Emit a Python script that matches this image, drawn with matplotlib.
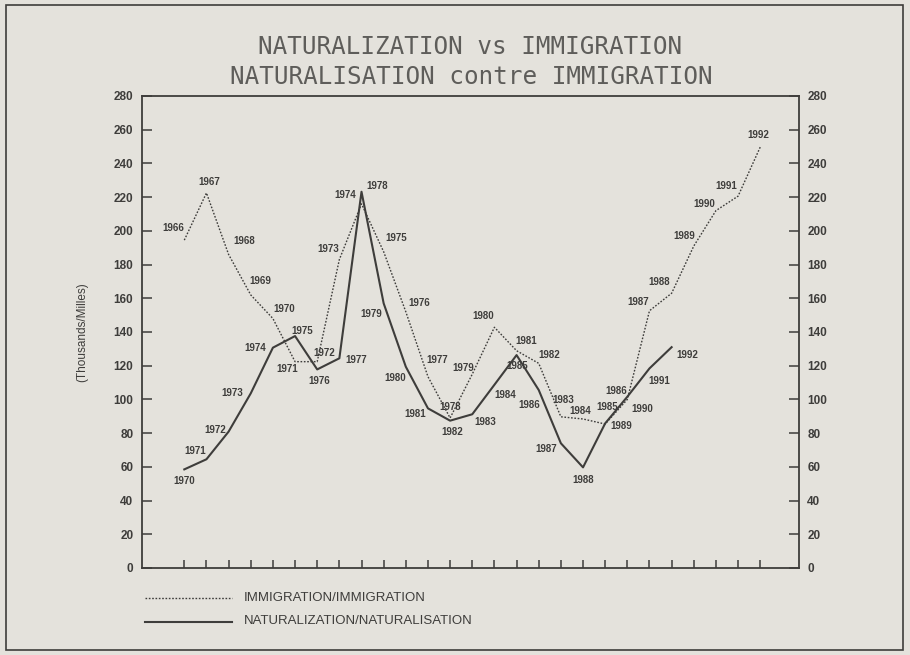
import matplotlib
matplotlib.use("Agg")
import matplotlib.pyplot as plt
from matplotlib import font_manager
from matplotlib.patches import Rectangle

# Immigration 1966-1992 and naturalization 1970-1992, thousands of persons
imm_years = list(range(1966, 1993))
imm_values = [194.5, 222.5, 186, 162, 148, 122.4, 122.4, 183, 216, 187.6,
              152, 113.5, 89, 115, 142.8, 128.9, 121.4, 89.7, 88.4, 85.4,
              100, 152.6, 163, 191, 212, 220.6, 249.7]

nat_years = list(range(1970, 1993))
nat_values = [58.5, 64.5, 80.9, 103.6, 130.7, 137.6, 117.8, 124.4, 223.2,
              157, 119.4, 94.7, 87.4, 91.2, 108.7, 126.3, 105.6, 74, 59.7,
              85.8, 101.6, 118.4, 131]

y_ticks = list(range(0, 281, 20))

# year label offsets in pixels (dx right, dy up)
imm_off = [(-11, 12), (3, 11), (16, 13), (10, 14), (11, 10), (-8, -7), (7, 9),
           (-11, 11), (-16, 9), (13, 14), (13, 9), (9, 17), (0, 11), (-9, 6),
           (-11, 11), (10, 10), (11, 8), (2, 17), (-3, 8), (2, 17), (-11, 8),
           (-11, 9), (-12, 11), (-10, 10), (-12, 7), (-12, 10), (-2, 12)]
nat_off = [(0, -12), (-11, 8), (-13, 2), (-19, 0), (-18, 0), (7, 5), (2, -12),
           (17, -2), (16, 6), (-12, -11), (-11, -11), (-13, -6), (2, -11),
           (13, -8), (11, -10), (1, -11), (-9, -15), (-15, -6), (0, -13),
           (16, -3), (15, -12), (10, -13), (16, -8)]

avail = {f.name for f in font_manager.fontManager.ttflist}
narrow = "Liberation Sans Narrow" if "Liberation Sans Narrow" in avail else "Liberation Sans"

ink = "#3e3d3b"
bg = "#e4e2dc"

fig = plt.figure(figsize=(9.10, 6.55), dpi=100, facecolor=bg)
fig.patches.append(Rectangle((6 / 910, 1 - 650 / 655), 897 / 910, 645 / 655,
                             transform=fig.transFigure, fill=False,
                             edgecolor=ink, linewidth=1.2))

W, H = 910, 655
ax = fig.add_axes([141.7 / W, 1 - 568 / H, (799 - 141.7) / W, (568 - 96) / H])
ax.set_facecolor(bg)

imm_x = list(range(len(imm_values)))
nat_x = list(range(len(nat_values)))

ax.plot(imm_x, imm_values, color=ink, lw=1.0, ls=(0, (1.2, 1.2)))
ax.plot(nat_x, nat_values, color=ink, lw=1.5, ls="-")

lab_font = dict(family=narrow, fontsize=7, fontweight="bold", color=ink,
                ha="center", va="center")
for x, y, yr, (dx, dy) in zip(imm_x, imm_values, imm_years, imm_off):
    ax.annotate(str(yr), (x, y), xytext=(dx, dy), textcoords="offset pixels",
                **lab_font)
for x, y, yr, (dx, dy) in zip(nat_x, nat_values, nat_years, nat_off):
    ax.annotate(str(yr), (x, y), xytext=(dx, dy), textcoords="offset pixels",
                **lab_font)

ax.set_xlim(-1.923, 27.75)
ax.set_ylim(0, 280)
ax.set_xticks(imm_x)
ax.set_xticklabels([])
ax.set_yticks(y_ticks)
ax.set_yticklabels([str(t) for t in y_ticks])
ax.tick_params(axis="x", direction="in", length=6, width=1.1, color=ink)
ax.tick_params(axis="y", direction="in", length=7, width=1.1, color=ink,
               left=True, right=True, labelleft=True, labelright=True,
               labelsize=8.5, labelcolor=ink, pad=6)
for lab in ax.get_yticklabels(which="both"):
    lab.set_family(narrow)
    lab.set_fontweight("bold")
for side in ["left", "right", "top", "bottom"]:
    ax.spines[side].set_color(ink)
    ax.spines[side].set_linewidth(1.3)

ax.set_ylabel("(Thousands/Milles)", family=narrow, fontsize=8.5, color=ink)
ax.yaxis.set_label_coords(-0.082, 0.5)

# two-line title
title_font = dict(family="DejaVu Sans Mono", fontsize=17.5, color="#5e5d5a",
                  ha="center", va="center")
fig.text(470 / W, 1 - 47 / H, "NATURALIZATION vs IMMIGRATION", **title_font)
fig.text(471 / W, 1 - 77 / H, "NATURALISATION contre IMMIGRATION", **title_font)

# legend drawn below the axes
fig.add_artist(plt.Line2D([145 / W, 232 / W], [1 - 598 / H, 1 - 598 / H],
                          color=ink, lw=1.0, ls=(0, (1.2, 1.2))))
fig.add_artist(plt.Line2D([145 / W, 232 / W], [1 - 621.5 / H, 1 - 621.5 / H],
                          color=ink, lw=1.5))
leg_font = dict(family=narrow, fontsize=9.5, color=ink, ha="left", va="center")
fig.text(244 / W, 1 - 598 / H, "IMMIGRATION/IMMIGRATION", **leg_font)
fig.text(244 / W, 1 - 621.5 / H, "NATURALIZATION/NATURALISATION", **leg_font)

fig.savefig("out.png", dpi=100, facecolor=bg)
